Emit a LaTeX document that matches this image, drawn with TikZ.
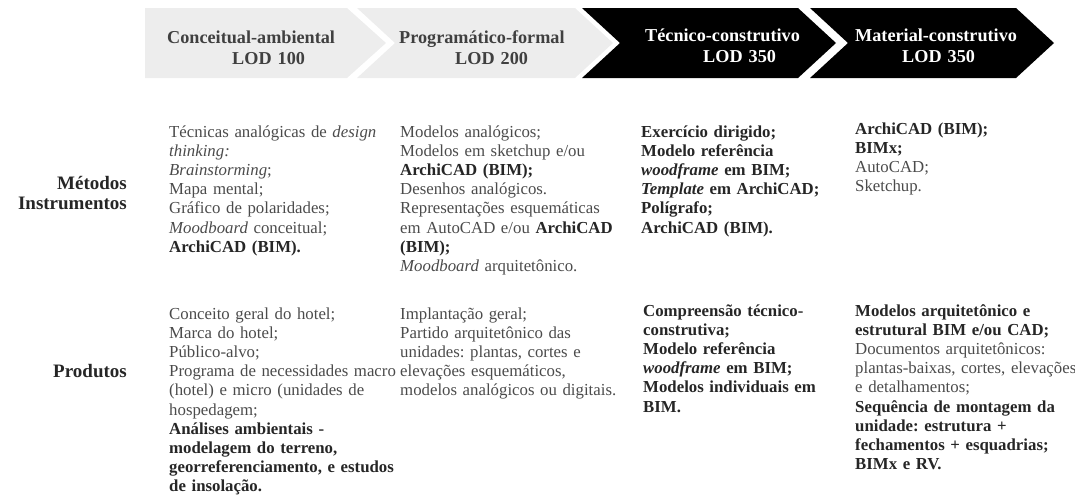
\documentclass[tikz,border=0pt]{standalone}
\usepackage{fontspec}
\setmainfont{Liberation Serif}
\usepackage{tikz}
\frenchspacing
\definecolor{chevlight}{RGB}{237,237,237}
\definecolor{headgray}{RGB}{64,64,64}
\definecolor{bodygray}{RGB}{75,75,75}
\definecolor{bolddark}{RGB}{38,38,38}
\newcommand{\bd}[1]{\textbf{\color{bolddark}#1}}

\begin{document}
\begin{tikzpicture}[x=1pt,y=-1pt,
  lightchev/.style={fill=chevlight},
  darkchev/.style={fill=black},
  headtxt/.style={anchor=base west, inner sep=0pt, text width=200pt, align=left,
    font=\fontsize{18.2}{21}\selectfont\bfseries},
  rowlabel/.style={anchor=base east, inner sep=0pt, text width=130pt, align=right,
    text=bolddark, font=\fontsize{19}{20}\selectfont\bfseries},
  celltxt/.style={anchor=base west, inner sep=0pt, text width=260pt, align=left,
    text=bodygray, font=\fontsize{16.8}{19.2}\selectfont},
  boldcell/.style={celltxt, text=bolddark, font=\fontsize{16.8}{19.2}\selectfont\bfseries}]
\useasboundingbox (0,0) rectangle (1075,499);

\fill[lightchev] (145,8) -- (347,8) -- (386,43) -- (347,78) -- (145,78) -- cycle;
\fill[lightchev] (357,8) -- (575,8) -- (613,43) -- (575,78) -- (357,78) -- (395,43) -- cycle;
\fill[darkchev] (582,8) -- (798,8) -- (836,43) -- (798,78) -- (582,78) -- (620,43) -- cycle;
\fill[darkchev] (810,8) -- (1016,8) -- (1054,43) -- (1016,78) -- (810,78) -- (848,43) -- cycle;

\node[headtxt, text=headgray] (conc) at (167,43) {Conceitual-ambiental\\\hspace*{65pt}LOD 100};
\node[headtxt, text=headgray] (prog) at (399,43) {Programático-formal\\\hspace*{56pt}LOD 200};
\node[headtxt, text=white] (tecn) at (645,41) {Técnico-construtivo\\\hspace*{58pt}LOD 350};
\node[headtxt, text=white] (matr) at (855,41) {Material-construtivo\\\hspace*{47pt}LOD 350};

\node[rowlabel] (metodos) at (127,189) {Métodos\\Instrumentos};
\node[rowlabel] (produtos) at (127,377) {Produtos};

\node[celltxt] (m1) at (169,137) {Técnicas analógicas de \textit{design}\\
  \textit{thinking:}\\ \textit{Brainstorming};\\ Mapa mental;\\ Gráfico de polaridades;\\
  \textit{Moodboard} conceitual;\\ \bd{ArchiCAD (BIM).}};
\node[celltxt] (m2) at (400,137) {Modelos analógicos;\\ Modelos em sketchup e/ou\\
  \bd{ArchiCAD (BIM);}\\ Desenhos analógicos.\\ Representações esquemáticas\\
  em AutoCAD e/ou \bd{ArchiCAD}\\ \bd{(BIM);}\\ \textit{Moodboard} arquitetônico.};
\node[boldcell] (m3) at (641,137) {Exercício dirigido;\\ Modelo referência\\
  \textit{woodframe} em BIM;\\ \textit{Template} em ArchiCAD;\\ Polígrafo;\\ ArchiCAD (BIM).};
\node[celltxt] (m4) at (855,134) {\bd{ArchiCAD (BIM);}\\ \bd{BIMx;}\\ AutoCAD;\\ Sketchup.};

\node[celltxt] (p1) at (169,319) {Conceito geral do hotel;\\ Marca do hotel;\\ Público-alvo;\\
  Programa de necessidades macro\\ (hotel) e micro (unidades de\\ hospedagem;\\
  \bd{Análises ambientais -}\\ \bd{modelagem do terreno,}\\
  \bd{georreferenciamento, e estudos}\\ \bd{de insolação.}};
\node[celltxt] (p2) at (400,319) {Implantação geral;\\ Partido arquitetônico das\\
  unidades: plantas, cortes e\\ elevações esquemáticos,\\ modelos analógicos ou digitais.};
\node[boldcell] (p3) at (643,316) {Compreensão técnico-\\ construtiva;\\ Modelo referência\\
  \textit{woodframe} em BIM;\\ Modelos individuais em\\ BIM.};
\node[celltxt] (p4) at (855,316) {\bd{Modelos arquitetônico e}\\ \bd{estrutural BIM e/ou CAD;}\\
  Documentos arquitetônicos:\\ plantas-baixas, cortes, elevações\\ e detalhamentos;\\
  \bd{Sequência de montagem da}\\ \bd{unidade: estrutura +}\\
  \bd{fechamentos + esquadrias;}\\ \bd{BIMx e RV.}};
\end{tikzpicture}
\end{document}
